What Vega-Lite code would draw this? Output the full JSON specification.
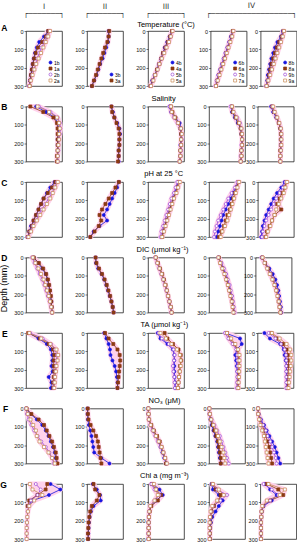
{
"$schema":"https://vega.github.io/schema/vega-lite/v6.json",
"padding":{"left":0,"top":2,"right":0,"bottom":0},
"background":"white",
"title":{"text":"Depth (mm)","orient":"left","anchor":"middle","fontSize":9,"offset":-9,"dx":-16},
"config":{
"font":"Liberation Sans",
"view":{"stroke":"#222","strokeWidth":0.8},
"axis":{"grid":false,"domain":false,"labelFontSize":5.5,"labelColor":"#111","labelFont":"Liberation Sans","tickSize":2,"tickColor":"#222","tickWidth":0.6,"labelPadding":1,"labelFlush":false,"labelOverlap":false},
"title":{"font":"Liberation Sans","fontSize":7.5,"fontWeight":"normal","color":"#000","offset":1,"anchor":"middle","subtitleFont":"Liberation Sans","subtitleFontSize":7.5,"subtitleColor":"#000","subtitlePadding":0,"lineHeight":7.5},
"legend":{"orient":"bottom-right","labelFontSize":5,"labelFont":"Liberation Sans","symbolSize":9,"rowPadding":-1,"padding":1,"offset":1,"labelOffset":1,"fillColor":"#ffffff","symbolStrokeWidth":0.7},
"area":{"strokeJoin":"round"}
},
"datasets":{
"A":[
{"c":1,"d":0,"p":28.5,"q":28.5,"u":29.5,"w":30},{"c":1,"d":30,"p":25,"q":26.5,"u":27.5,"w":28.5},{"c":1,"d":60,"p":21,"q":23.5,"u":25.5,"w":26.5},{"c":1,"d":90,"p":19,"q":20,"u":23,"w":24.5},{"c":1,"d":120,"p":17.5,"q":18,"u":21,"w":22.5},{"c":1,"d":150,"p":16.5,"q":16.8,"u":19.5,"w":20.5},{"c":1,"d":180,"p":15.5,"q":15.8,"u":18,"w":18.5},{"c":1,"d":210,"p":14.8,"q":15,"u":16.5,"w":17},{"c":1,"d":240,"p":14,"q":14.2,"u":15,"w":15.5},{"c":1,"d":270,"p":13.3,"q":13.5,"u":13.5,"w":14},{"c":1,"d":300,"p":12.8,"q":13,"u":12.5,"w":13},
{"c":2,"d":0,"p":28,"q":28.5},{"c":2,"d":30,"p":28,"q":28},{"c":2,"d":60,"p":27.5,"q":27},{"c":2,"d":90,"p":26,"q":25},{"c":2,"d":120,"p":24.5,"q":23.5},{"c":2,"d":150,"p":23,"q":22},{"c":2,"d":180,"p":21,"q":20.5},{"c":2,"d":210,"p":19.5,"q":19},{"c":2,"d":240,"p":18,"q":17.5},{"c":2,"d":270,"p":16,"q":15.8},{"c":2,"d":300,"p":14,"q":14.2},
{"c":3,"d":0,"p":30,"q":30,"u":30.5,"w":30.5},{"c":3,"d":30,"p":28,"q":28.5,"u":29,"w":29},{"c":3,"d":60,"p":26,"q":26.5,"u":27,"w":27.5},{"c":3,"d":90,"p":24,"q":24.5,"u":25,"w":25.5},{"c":3,"d":120,"p":22.5,"q":22.5,"u":23,"w":23.5},{"c":3,"d":150,"p":21,"q":21,"u":21,"w":21.5},{"c":3,"d":180,"p":19,"q":19.5,"u":19.5,"w":19.5},{"c":3,"d":210,"p":17.5,"q":17.5,"u":18,"w":18},{"c":3,"d":240,"p":15.5,"q":16,"u":16,"w":16},{"c":3,"d":270,"p":13.5,"q":14,"u":14,"w":14.5},{"c":3,"d":300,"p":12,"q":12,"u":12.5,"w":12.5},
{"c":4,"d":0,"p":28.5,"q":28.5,"u":29,"w":29},{"c":4,"d":30,"p":27,"q":27.5,"u":27.5,"w":28},{"c":4,"d":60,"p":25.5,"q":26,"u":25.5,"w":26.5},{"c":4,"d":90,"p":24,"q":24.5,"u":24,"w":25},{"c":4,"d":120,"p":22.5,"q":23,"u":22.5,"w":23.5},{"c":4,"d":150,"p":21,"q":21.5,"u":21,"w":22},{"c":4,"d":180,"p":19.5,"q":20,"u":19.5,"w":20.5},{"c":4,"d":210,"p":18,"q":18.5,"u":18,"w":19},{"c":4,"d":240,"p":16.5,"q":17,"u":16.5,"w":17.5},{"c":4,"d":270,"p":15.5,"q":15.5,"u":15,"w":16},{"c":4,"d":300,"p":14.5,"q":14.5,"u":14,"w":14.5},
{"c":5,"d":0,"p":28.5,"q":29,"u":29,"w":29.5},{"c":5,"d":30,"p":27,"q":27.5,"u":28,"w":28.5},{"c":5,"d":60,"p":24,"q":25.5,"u":26.5,"w":27},{"c":5,"d":90,"p":22,"q":23.5,"u":25,"w":25.5},{"c":5,"d":120,"p":20.5,"q":22,"u":23.5,"w":24},{"c":5,"d":150,"p":19,"q":20.5,"u":22,"w":22.5},{"c":5,"d":180,"p":18,"q":19,"u":20.5,"w":21},{"c":5,"d":210,"p":17,"q":18,"u":19,"w":19.5},{"c":5,"d":240,"p":16,"q":17,"u":17.5,"w":18},{"c":5,"d":270,"p":15.5,"q":16,"u":16,"w":16.5},{"c":5,"d":300,"p":15,"q":15,"u":14.5,"w":15}
],
"B":[
{"c":1,"d":0,"p":33.2,"q":32.8,"u":33.4,"w":33.3},{"c":1,"d":30,"p":33.9,"q":33.7,"u":34.2,"w":34.1},{"c":1,"d":60,"p":34.5,"q":34.4,"u":34.7,"w":34.65},{"c":1,"d":90,"p":34.7,"q":34.65,"u":34.85,"w":34.8},{"c":1,"d":120,"p":34.75,"q":34.7,"u":34.9,"w":34.85},{"c":1,"d":150,"p":34.75,"q":34.7,"u":34.85,"w":34.8},{"c":1,"d":180,"p":34.7,"q":34.7,"u":34.8,"w":34.8},{"c":1,"d":210,"p":34.7,"q":34.7,"u":34.75,"w":34.75},{"c":1,"d":240,"p":34.7,"q":34.7,"u":34.75,"w":34.7},{"c":1,"d":270,"p":34.7,"q":34.65,"u":34.7,"w":34.7},{"c":1,"d":300,"p":34.7,"q":34.65,"u":34.7,"w":34.7},
{"c":2,"d":0,"p":34.2,"q":34.2},{"c":2,"d":30,"p":34.3,"q":34.25},{"c":2,"d":60,"p":34.4,"q":34.4},{"c":2,"d":90,"p":34.6,"q":34.55},{"c":2,"d":120,"p":34.75,"q":34.7},{"c":2,"d":150,"p":34.8,"q":34.75},{"c":2,"d":180,"p":34.75,"q":34.75},{"c":2,"d":210,"p":34.75,"q":34.75},{"c":2,"d":240,"p":34.7,"q":34.7},{"c":2,"d":270,"p":34.7,"q":34.7},{"c":2,"d":300,"p":34.7,"q":34.65},
{"c":3,"d":0,"p":34.0,"q":34.1,"u":34.0,"w":34.1},{"c":3,"d":30,"p":34.1,"q":34.2,"u":34.1,"w":34.15},{"c":3,"d":60,"p":34.4,"q":34.4,"u":34.3,"w":34.35},{"c":3,"d":90,"p":34.7,"q":34.6,"u":34.55,"w":34.6},{"c":3,"d":120,"p":34.8,"q":34.75,"u":34.75,"w":34.8},{"c":3,"d":150,"p":34.8,"q":34.8,"u":34.85,"w":34.85},{"c":3,"d":180,"p":34.8,"q":34.8,"u":34.85,"w":34.8},{"c":3,"d":210,"p":34.75,"q":34.8,"u":34.8,"w":34.8},{"c":3,"d":240,"p":34.75,"q":34.75,"u":34.8,"w":34.75},{"c":3,"d":270,"p":34.75,"q":34.75,"u":34.75,"w":34.75},{"c":3,"d":300,"p":34.7,"q":34.7,"u":34.7,"w":34.7},
{"c":4,"d":0,"p":34.05,"q":34.1,"u":34.0,"w":34.1},{"c":4,"d":30,"p":34.1,"q":34.15,"u":34.2,"w":34.2},{"c":4,"d":60,"p":34.3,"q":34.35,"u":34.45,"w":34.4},{"c":4,"d":90,"p":34.5,"q":34.55,"u":34.65,"w":34.6},{"c":4,"d":120,"p":34.7,"q":34.7,"u":34.75,"w":34.75},{"c":4,"d":150,"p":34.75,"q":34.75,"u":34.8,"w":34.8},{"c":4,"d":180,"p":34.8,"q":34.8,"u":34.8,"w":34.8},{"c":4,"d":210,"p":34.8,"q":34.8,"u":34.75,"w":34.8},{"c":4,"d":240,"p":34.75,"q":34.75,"u":34.75,"w":34.75},{"c":4,"d":270,"p":34.75,"q":34.75,"u":34.7,"w":34.75},{"c":4,"d":300,"p":34.7,"q":34.7,"u":34.7,"w":34.7},
{"c":5,"d":0,"p":33.8,"q":33.9,"u":33.9,"w":34.0},{"c":5,"d":30,"p":34.0,"q":34.1,"u":34.1,"w":34.15},{"c":5,"d":60,"p":34.3,"q":34.35,"u":34.35,"w":34.4},{"c":5,"d":90,"p":34.55,"q":34.55,"u":34.6,"w":34.6},{"c":5,"d":120,"p":34.7,"q":34.7,"u":34.75,"w":34.75},{"c":5,"d":150,"p":34.75,"q":34.75,"u":34.8,"w":34.8},{"c":5,"d":180,"p":34.75,"q":34.75,"u":34.8,"w":34.8},{"c":5,"d":210,"p":34.75,"q":34.75,"u":34.75,"w":34.8},{"c":5,"d":240,"p":34.75,"q":34.7,"u":34.75,"w":34.75},{"c":5,"d":270,"p":34.7,"q":34.7,"u":34.7,"w":34.7},{"c":5,"d":300,"p":34.7,"q":34.7,"u":34.7,"w":34.7}
],
"C":[
{"c":1,"d":0,"p":8.12,"q":8.13,"u":8.15,"w":8.16},{"c":1,"d":30,"p":8.07,"q":8.09,"u":8.12,"w":8.13},{"c":1,"d":60,"p":8.03,"q":8.04,"u":8.09,"w":8.1},{"c":1,"d":90,"p":7.99,"q":7.99,"u":8.05,"w":8.07},{"c":1,"d":120,"p":7.96,"q":7.96,"u":8.01,"w":8.03},{"c":1,"d":150,"p":7.93,"q":7.93,"u":7.97,"w":7.99},{"c":1,"d":180,"p":7.9,"q":7.9,"u":7.93,"w":7.95},{"c":1,"d":210,"p":7.87,"q":7.87,"u":7.9,"w":7.91},{"c":1,"d":240,"p":7.84,"q":7.85,"u":7.86,"w":7.87},{"c":1,"d":270,"p":7.82,"q":7.82,"u":7.83,"w":7.84},{"c":1,"d":300,"p":7.8,"q":7.8,"u":7.8,"w":7.81},
{"c":2,"d":0,"p":8.16,"q":8.16},{"c":2,"d":30,"p":8.14,"q":8.12},{"c":2,"d":60,"p":8.11,"q":8.08},{"c":2,"d":90,"p":8.08,"q":8.04},{"c":2,"d":120,"p":8.05,"q":8.0},{"c":2,"d":150,"p":8.02,"q":7.96},{"c":2,"d":180,"p":7.98,"q":7.93},{"c":2,"d":210,"p":8.02,"q":7.95},{"c":2,"d":240,"p":7.93,"q":7.92},{"c":2,"d":270,"p":7.86,"q":7.87},{"c":2,"d":300,"p":7.82,"q":7.82},
{"c":3,"d":0,"p":8.14,"q":8.15,"u":8.13,"w":8.16},{"c":3,"d":30,"p":8.12,"q":8.13,"u":8.11,"w":8.14},{"c":3,"d":60,"p":8.1,"q":8.11,"u":8.09,"w":8.12},{"c":3,"d":90,"p":8.08,"q":8.08,"u":8.06,"w":8.09},{"c":3,"d":120,"p":8.06,"q":8.06,"u":8.04,"w":8.07},{"c":3,"d":150,"p":8.04,"q":8.04,"u":8.02,"w":8.05},{"c":3,"d":180,"p":8.02,"q":8.02,"u":8.0,"w":8.03},{"c":3,"d":210,"p":8.0,"q":8.0,"u":7.98,"w":8.01},{"c":3,"d":240,"p":7.98,"q":7.98,"u":7.96,"w":7.99},{"c":3,"d":270,"p":7.96,"q":7.96,"u":7.94,"w":7.97},{"c":3,"d":300,"p":7.94,"q":7.95,"u":7.93,"w":7.95},
{"c":4,"d":0,"p":8.13,"q":8.13,"u":8.12,"w":8.14},{"c":4,"d":30,"p":8.1,"q":8.11,"u":8.09,"w":8.12},{"c":4,"d":60,"p":8.07,"q":8.09,"u":8.05,"w":8.1},{"c":4,"d":90,"p":8.04,"q":8.07,"u":8.01,"w":8.08},{"c":4,"d":120,"p":8.01,"q":8.05,"u":7.98,"w":8.06},{"c":4,"d":150,"p":7.98,"q":8.03,"u":7.95,"w":8.04},{"c":4,"d":180,"p":7.95,"q":8.0,"u":7.92,"w":8.02},{"c":4,"d":210,"p":7.93,"q":7.98,"u":7.89,"w":8.0},{"c":4,"d":240,"p":7.91,"q":7.96,"u":7.87,"w":7.97},{"c":4,"d":270,"p":7.89,"q":7.93,"u":7.85,"w":7.94},{"c":4,"d":300,"p":7.87,"q":7.9,"u":7.84,"w":7.92},
{"c":5,"d":0,"p":8.1,"q":8.12,"u":8.11,"w":8.13},{"c":5,"d":30,"p":8.06,"q":8.1,"u":8.08,"w":8.11},{"c":5,"d":60,"p":8.01,"q":8.07,"u":8.04,"w":8.09},{"c":5,"d":90,"p":7.97,"q":8.04,"u":8.0,"w":8.06},{"c":5,"d":120,"p":7.94,"q":8.01,"u":7.97,"w":8.03},{"c":5,"d":150,"p":7.91,"q":8.06,"u":7.94,"w":8.0},{"c":5,"d":180,"p":7.88,"q":7.98,"u":7.91,"w":7.98},{"c":5,"d":210,"p":7.86,"q":7.95,"u":7.88,"w":7.95},{"c":5,"d":240,"p":7.84,"q":7.92,"u":7.86,"w":7.93},{"c":5,"d":270,"p":7.83,"q":7.89,"u":7.84,"w":7.9},{"c":5,"d":300,"p":7.82,"q":7.87,"u":7.83,"w":7.88}
],
"D":[
{"c":1,"d":0,"p":1880,"q":1880,"u":1860,"w":1870},{"c":1,"d":30,"p":1930,"q":1940,"u":1890,"w":1900},{"c":1,"d":60,"p":1980,"q":1990,"u":1920,"w":1935},{"c":1,"d":90,"p":2020,"q":2025,"u":1950,"w":1965},{"c":1,"d":120,"p":2040,"q":2045,"u":1980,"w":1995},{"c":1,"d":150,"p":2055,"q":2060,"u":2005,"w":2015},{"c":1,"d":180,"p":2065,"q":2070,"u":2025,"w":2035},{"c":1,"d":210,"p":2075,"q":2080,"u":2045,"w":2055},{"c":1,"d":240,"p":2085,"q":2085,"u":2065,"w":2070},{"c":1,"d":270,"p":2090,"q":2090,"u":2080,"w":2085},{"c":1,"d":300,"p":2095,"q":2095,"u":2090,"w":2095},
{"c":2,"d":0,"p":1890,"q":1890},{"c":2,"d":30,"p":1895,"q":1900},{"c":2,"d":60,"p":1920,"q":1930},{"c":2,"d":90,"p":1960,"q":1965},{"c":2,"d":120,"p":1990,"q":1995},{"c":2,"d":150,"p":2015,"q":2020},{"c":2,"d":180,"p":2035,"q":2040},{"c":2,"d":210,"p":2055,"q":2060},{"c":2,"d":240,"p":2075,"q":2075},{"c":2,"d":270,"p":2090,"q":2090},{"c":2,"d":300,"p":2100,"q":2100},
{"c":3,"d":0,"p":1880,"q":1880,"u":1875,"w":1880},{"c":3,"d":30,"p":1900,"q":1905,"u":1895,"w":1900},{"c":3,"d":60,"p":1925,"q":1930,"u":1920,"w":1925},{"c":3,"d":90,"p":1950,"q":1955,"u":1945,"w":1950},{"c":3,"d":120,"p":1970,"q":1975,"u":1965,"w":1970},{"c":3,"d":150,"p":1990,"q":1995,"u":1985,"w":1990},{"c":3,"d":180,"p":2010,"q":2010,"u":2005,"w":2010},{"c":3,"d":210,"p":2025,"q":2025,"u":2020,"w":2025},{"c":3,"d":240,"p":2040,"q":2040,"u":2035,"w":2040},{"c":3,"d":270,"p":2055,"q":2055,"u":2050,"w":2055},{"c":3,"d":300,"p":2065,"q":2065,"u":2060,"w":2065},
{"c":4,"d":0,"p":1900,"q":1905,"u":1900,"w":1900},{"c":4,"d":30,"p":1930,"q":1925,"u":1935,"w":1920},{"c":4,"d":60,"p":1955,"q":1950,"u":1965,"w":1945},{"c":4,"d":90,"p":1980,"q":1975,"u":1990,"w":1970},{"c":4,"d":120,"p":2000,"q":1995,"u":2010,"w":1990},{"c":4,"d":150,"p":2020,"q":2015,"u":2030,"w":2010},{"c":4,"d":180,"p":2035,"q":2030,"u":2045,"w":2025},{"c":4,"d":210,"p":2050,"q":2045,"u":2060,"w":2040},{"c":4,"d":240,"p":2060,"q":2060,"u":2070,"w":2055},{"c":4,"d":270,"p":2070,"q":2070,"u":2080,"w":2065},{"c":4,"d":300,"p":2080,"q":2080,"u":2090,"w":2075},
{"c":5,"d":0,"p":1860,"q":1870,"u":1865,"w":1870},{"c":5,"d":30,"p":1900,"q":1900,"u":1895,"w":1895},{"c":5,"d":60,"p":1950,"q":1935,"u":1930,"w":1925},{"c":5,"d":90,"p":1990,"q":1965,"u":1965,"w":1955},{"c":5,"d":120,"p":2020,"q":1995,"u":1995,"w":1985},{"c":5,"d":150,"p":2040,"q":2015,"u":2020,"w":2010},{"c":5,"d":180,"p":2055,"q":2035,"u":2040,"w":2030},{"c":5,"d":210,"p":2065,"q":2050,"u":2055,"w":2045},{"c":5,"d":240,"p":2075,"q":2060,"u":2065,"w":2060},{"c":5,"d":270,"p":2085,"q":2070,"u":2075,"w":2070},{"c":5,"d":300,"p":2090,"q":2080,"u":2085,"w":2080}
],
"E":[
{"c":1,"d":0,"p":2190,"q":2188,"u":2195,"w":2192},{"c":1,"d":30,"p":2225,"q":2230,"u":2240,"w":2235},{"c":1,"d":60,"p":2255,"q":2262,"u":2270,"w":2268},{"c":1,"d":90,"p":2270,"q":2278,"u":2285,"w":2290},{"c":1,"d":120,"p":2275,"q":2282,"u":2292,"w":2296},{"c":1,"d":150,"p":2275,"q":2280,"u":2290,"w":2294},{"c":1,"d":180,"p":2272,"q":2280,"u":2288,"w":2290},{"c":1,"d":210,"p":2276,"q":2282,"u":2286,"w":2288},{"c":1,"d":240,"p":2262,"q":2280,"u":2284,"w":2285},{"c":1,"d":270,"p":2272,"q":2278,"u":2282,"w":2284},{"c":1,"d":300,"p":2270,"q":2278,"u":2280,"w":2282},
{"c":2,"d":0,"p":2242,"q":2245},{"c":2,"d":30,"p":2250,"q":2258},{"c":2,"d":60,"p":2258,"q":2275},{"c":2,"d":90,"p":2263,"q":2290},{"c":2,"d":120,"p":2265,"q":2298},{"c":2,"d":150,"p":2272,"q":2300},{"c":2,"d":180,"p":2280,"q":2298},{"c":2,"d":210,"p":2285,"q":2296},{"c":2,"d":240,"p":2288,"q":2294},{"c":2,"d":270,"p":2290,"q":2292},{"c":2,"d":300,"p":2290,"q":2290},
{"c":3,"d":0,"p":2215,"q":2240,"u":2218,"w":2225},{"c":3,"d":30,"p":2225,"q":2250,"u":2230,"w":2245},{"c":3,"d":60,"p":2250,"q":2270,"u":2255,"w":2265},{"c":3,"d":90,"p":2270,"q":2290,"u":2272,"w":2285},{"c":3,"d":120,"p":2275,"q":2298,"u":2276,"w":2295},{"c":3,"d":150,"p":2275,"q":2300,"u":2274,"w":2298},{"c":3,"d":180,"p":2275,"q":2296,"u":2270,"w":2298},{"c":3,"d":210,"p":2275,"q":2294,"u":2272,"w":2295},{"c":3,"d":240,"p":2276,"q":2292,"u":2275,"w":2292},{"c":3,"d":270,"p":2278,"q":2290,"u":2276,"w":2290},{"c":3,"d":300,"p":2278,"q":2288,"u":2277,"w":2288},
{"c":4,"d":0,"p":2240,"q":2245,"u":2238,"w":2245},{"c":4,"d":30,"p":2292,"q":2255,"u":2250,"w":2260},{"c":4,"d":60,"p":2298,"q":2270,"u":2265,"w":2275},{"c":4,"d":90,"p":2280,"q":2282,"u":2278,"w":2285},{"c":4,"d":120,"p":2275,"q":2286,"u":2282,"w":2290},{"c":4,"d":150,"p":2278,"q":2288,"u":2283,"w":2290},{"c":4,"d":180,"p":2280,"q":2288,"u":2283,"w":2290},{"c":4,"d":210,"p":2282,"q":2287,"u":2282,"w":2289},{"c":4,"d":240,"p":2284,"q":2286,"u":2282,"w":2288},{"c":4,"d":270,"p":2285,"q":2285,"u":2281,"w":2287},{"c":4,"d":300,"p":2285,"q":2285,"u":2280,"w":2286},
{"c":5,"d":0,"p":2205,"q":2230,"u":2220,"w":2232},{"c":5,"d":30,"p":2225,"q":2250,"u":2245,"w":2260},{"c":5,"d":60,"p":2262,"q":2272,"u":2265,"w":2285},{"c":5,"d":90,"p":2275,"q":2285,"u":2278,"w":2298},{"c":5,"d":120,"p":2278,"q":2290,"u":2283,"w":2302},{"c":5,"d":150,"p":2282,"q":2292,"u":2284,"w":2302},{"c":5,"d":180,"p":2285,"q":2292,"u":2284,"w":2300},{"c":5,"d":210,"p":2285,"q":2291,"u":2284,"w":2298},{"c":5,"d":240,"p":2286,"q":2290,"u":2284,"w":2296},{"c":5,"d":270,"p":2286,"q":2289,"u":2284,"w":2294},{"c":5,"d":300,"p":2286,"q":2288,"u":2284,"w":2292}
],
"F":[
{"c":1,"d":0,"p":0.2,"q":0.3,"u":0.1,"w":0.2},{"c":1,"d":30,"p":2.5,"q":3,"u":0.5,"w":1},{"c":1,"d":60,"p":6,"q":7,"u":1.5,"w":2.5},{"c":1,"d":90,"p":9,"q":10,"u":3,"w":4},{"c":1,"d":120,"p":11,"q":11.5,"u":4.5,"w":5.5},{"c":1,"d":150,"p":12.5,"q":13,"u":6.5,"w":6},{"c":1,"d":180,"p":13.8,"q":14.5,"u":8.5,"w":7.5},{"c":1,"d":210,"p":15,"q":15.5,"u":11,"w":10},{"c":1,"d":240,"p":16,"q":16.5,"u":13,"w":12.5},{"c":1,"d":270,"p":16.5,"q":17,"u":14.5,"w":14.5},{"c":1,"d":300,"p":17,"q":17.5,"u":15.5,"w":16},
{"c":2,"d":0,"p":0.3,"q":0.4},{"c":2,"d":30,"p":0.3,"q":0.5},{"c":2,"d":60,"p":0.5,"q":0.8},{"c":2,"d":90,"p":1,"q":2},{"c":2,"d":120,"p":1.8,"q":3.5},{"c":2,"d":150,"p":2.5,"q":5},{"c":2,"d":180,"p":3,"q":6},{"c":2,"d":210,"p":3.5,"q":6.5},{"c":2,"d":240,"p":4,"q":7},{"c":2,"d":270,"p":8,"q":7.5},{"c":2,"d":300,"p":12.5,"q":8},
{"c":3,"d":0,"p":0.2,"q":0.2,"u":0.1,"w":0.2},{"c":3,"d":30,"p":0.2,"q":0.3,"u":0.2,"w":0.3},{"c":3,"d":60,"p":0.5,"q":0.6,"u":0.4,"w":0.5},{"c":3,"d":90,"p":1.5,"q":1.8,"u":1.2,"w":1.5},{"c":3,"d":120,"p":3,"q":3.2,"u":2.5,"w":3},{"c":3,"d":150,"p":4.5,"q":5,"u":4,"w":4.5},{"c":3,"d":180,"p":6,"q":6.5,"u":5.5,"w":6},{"c":3,"d":210,"p":7,"q":7.5,"u":7,"w":7.5},{"c":3,"d":240,"p":8,"q":8.5,"u":8.5,"w":8.5},{"c":3,"d":270,"p":9,"q":9.5,"u":9.5,"w":9.5},{"c":3,"d":300,"p":10,"q":10,"u":10.5,"w":10.5},
{"c":4,"d":0,"p":0.2,"q":0.2,"u":0.2,"w":0.2},{"c":4,"d":30,"p":0.3,"q":0.4,"u":0.5,"w":0.5},{"c":4,"d":60,"p":0.8,"q":1,"u":1.5,"w":1.2},{"c":4,"d":90,"p":1.5,"q":2,"u":3,"w":2.5},{"c":4,"d":120,"p":2.5,"q":3,"u":4.5,"w":4},{"c":4,"d":150,"p":3.5,"q":4,"u":6,"w":5},{"c":4,"d":180,"p":4.5,"q":5,"u":7,"w":6},{"c":4,"d":210,"p":5,"q":5.5,"u":8,"w":7},{"c":4,"d":240,"p":5.5,"q":6,"u":9,"w":8},{"c":4,"d":270,"p":6,"q":6.5,"u":10,"w":8.5},{"c":4,"d":300,"p":6.5,"q":6.5,"u":11,"w":9},
{"c":5,"d":0,"p":0.2,"q":0.2,"u":0.2,"w":0.2},{"c":5,"d":30,"p":0.5,"q":0.4,"u":0.4,"w":0.3},{"c":5,"d":60,"p":1.8,"q":1.2,"u":1.5,"w":0.8},{"c":5,"d":90,"p":3.5,"q":2.5,"u":3,"w":1.5},{"c":5,"d":120,"p":5,"q":3.5,"u":4.5,"w":2.5},{"c":5,"d":150,"p":6.5,"q":4.5,"u":5.5,"w":3.5},{"c":5,"d":180,"p":8,"q":5.5,"u":7,"w":4},{"c":5,"d":210,"p":9.5,"q":6.5,"u":8,"w":4.5},{"c":5,"d":240,"p":10.5,"q":7,"u":9,"w":5},{"c":5,"d":270,"p":11.5,"q":7.5,"u":10,"w":5.5},{"c":5,"d":300,"p":12.5,"q":8,"u":10.5,"w":6}
],
"G":[
{"c":1,"d":0,"p":0.75,"q":0.65,"u":0.3,"w":0.12},{"c":1,"d":30,"p":1.05,"q":0.6,"u":0.45,"w":0.2},{"c":1,"d":60,"p":0.7,"q":0.35,"u":0.35,"w":0.5},{"c":1,"d":90,"p":0.2,"q":0.1,"u":0.15,"w":0.25},{"c":1,"d":120,"p":0.07,"q":0.05,"u":0.08,"w":0.1},{"c":1,"d":150,"u":0.05,"w":0.06},{"c":1,"d":180,"u":0.04,"w":0.04},{"c":1,"d":210,"u":0.03,"w":0.03},{"c":1,"d":240,"u":0.03,"w":0.02},{"c":1,"d":270,"u":0.02,"w":0.02},{"c":1,"d":300,"u":0.02,"w":0.02},
{"c":2,"d":0,"p":0.18,"q":0.2},{"c":2,"d":30,"p":0.3,"q":0.25},{"c":2,"d":60,"p":0.4,"q":0.38},{"c":2,"d":90,"p":0.42,"q":0.3},{"c":2,"d":120,"p":0.2,"q":0.15},{"c":2,"d":150,"p":0.12,"q":0.1},{"c":2,"d":180,"p":0.08,"q":0.07},{"c":2,"d":210,"p":0.06,"q":0.05},{"c":2,"d":240,"p":0.05,"q":0.04},{"c":2,"d":270,"p":0.04,"q":0.03},{"c":2,"d":300,"p":0.04,"q":0.03},
{"c":3,"d":0,"p":0.15,"q":0.12,"u":0.1,"w":0.18},{"c":3,"d":30,"p":0.35,"q":0.25,"u":0.2,"w":0.25},{"c":3,"d":60,"p":0.45,"q":0.4,"u":0.35,"w":0.3},{"c":3,"d":90,"p":0.25,"q":0.3,"u":0.2,"w":0.2},{"c":3,"d":120,"p":0.08,"q":0.1,"u":0.06,"w":0.07},{"c":3,"d":150,"p":0.04,"q":0.05,"u":0.03,"w":0.04},{"c":3,"d":180,"p":0.03,"q":0.03,"u":0.02,"w":0.03},{"c":3,"d":210,"p":0.02,"q":0.02,"u":0.02,"w":0.02},{"c":3,"d":240,"p":0.02,"q":0.02,"u":0.02,"w":0.02},{"c":3,"d":270,"p":0.02,"q":0.02,"u":0.01,"w":0.02},{"c":3,"d":300,"p":0.02,"q":0.02,"u":0.01,"w":0.02},
{"c":4,"d":0,"p":0.08,"q":0.1,"u":0.1,"w":0.12},{"c":4,"d":30,"p":0.12,"q":0.2,"u":0.25,"w":0.3},{"c":4,"d":60,"p":0.3,"q":0.35,"u":0.55,"w":0.45},{"c":4,"d":90,"p":0.42,"q":0.3,"u":0.35,"w":0.25},{"c":4,"d":120,"p":0.3,"q":0.15,"u":0.12,"w":0.1},{"c":4,"d":150,"p":0.2,"q":0.08,"u":0.06,"w":0.05},{"c":4,"d":180,"p":0.1,"q":0.05,"u":0.04,"w":0.03},{"c":4,"d":210,"p":0.06,"q":0.04,"u":0.03,"w":0.02},{"c":4,"d":240,"p":0.04,"q":0.03,"u":0.02,"w":0.02},{"c":4,"d":270,"p":0.03,"q":0.03,"u":0.02,"w":0.02},{"c":4,"d":300,"p":0.03,"q":0.03,"u":0.02,"w":0.02},
{"c":5,"d":0,"p":0.15,"q":0.2,"u":0.1,"w":0.25},{"c":5,"d":30,"p":0.3,"q":0.55,"u":0.35,"w":0.75},{"c":5,"d":60,"p":0.5,"q":0.7,"u":0.55,"w":0.6},{"c":5,"d":90,"p":0.35,"q":0.3,"u":0.3,"w":0.2},{"c":5,"d":120,"p":0.1,"q":0.08,"u":0.08,"w":0.06},{"c":5,"d":150,"p":0.05,"q":0.04,"u":0.04,"w":0.04},{"c":5,"d":180,"p":0.03,"q":0.03,"u":0.03,"w":0.03},{"c":5,"d":210,"p":0.02,"q":0.02,"u":0.02,"w":0.02},{"c":5,"d":240,"p":0.02,"q":0.02,"u":0.02,"w":0.02},{"c":5,"d":270,"p":0.02,"q":0.02,"u":0.02,"w":0.02},{"c":5,"d":300,"p":0.02,"q":0.02,"u":0.02,"w":0.02}
]
},
"spacing":4.5,
"resolve":{"scale":{"stroke":"independent","fill":"independent","shape":"independent"},"legend":{"stroke":"independent","fill":"independent","shape":"independent"}},
"vconcat":[
{"spacing":1.6,
"resolve":{"scale":{"stroke":"independent","fill":"independent","shape":"independent"},"legend":{"stroke":"independent","fill":"independent","shape":"independent"}},
"hconcat":[
{"title":{"text":"A","orient":"left","angle":0,"anchor":"end","align":"right","baseline":"top","fontSize":8.5,"fontWeight":"bold","offset":0,"dy":22},
"bounds":"flush","spacing":25,
"resolve":{"scale":{"stroke":"independent","fill":"independent","shape":"independent"},"legend":{"stroke":"independent","fill":"independent","shape":"independent"}},
"hconcat":[
{"width":36,"height":55,"data":{"name":"A"},"transform":[{"filter":"datum.c==1"},{"fold":["p","q","u","w"],"as":["k","v"]},{"filter":"isValid(datum.v)"}],
"title":{"text":["I","┌───────┐"],"subtitle":"\u00a0","font":"DejaVu Sans","fontSize":7.5,"color":"#333","frame":"group","offset":0},
"encoding":{"y":{"field":"d","type":"quantitative","title":null,"scale":{"domain":[0,300],"reverse":true,"nice":false,"zero":false},"axis":{"values":[0,100,200,300]}}},
"layer":[
{"transform":[{"aggregate":[{"op":"min","field":"v","as":"lo"},{"op":"max","field":"v","as":"hi"}],"groupby":["c","d"]}],"mark":{"type":"area","orient":"horizontal","fill":"#ffd2ec","stroke":"#ffd2ec","strokeWidth":5},"encoding":{"x":{"field":"lo","type":"quantitative","title":null,"scale":{"domain":[10,40],"nice":false,"zero":false},"axis":{"orient":"top","values":[10,20,30,40],"format":"d"}},"x2":{"field":"hi"}}},
{"mark":{"type":"line","strokeWidth":0.8},"encoding":{"x":{"field":"v","type":"quantitative","axis":null},"stroke":{"field":"k","type":"nominal","scale":{"domain":["p","q","u","w"],"range":["#1515e0","#8b3a12","#9b45d6","#c98a55"]},"legend":{"title":null,"labelExpr":"datum.label=='p'?'1b':datum.label=='q'?'1a':datum.label=='u'?'2b':'2a'"}},"order":{"field":"d","type":"quantitative"}}},
{"mark":{"type":"point","filled":true,"size":9,"strokeWidth":0.7,"opacity":1},"encoding":{"x":{"field":"v","type":"quantitative","axis":null},
"stroke":{"field":"k","type":"nominal","scale":{"domain":["p","q","u","w"],"range":["#1515e0","#8b3a12","#9b45d6","#c98a55"]},"legend":{"title":null,"labelExpr":"datum.label=='p'?'1b':datum.label=='q'?'1a':datum.label=='u'?'2b':'2a'"}},
"fill":{"field":"k","type":"nominal","scale":{"domain":["p","q","u","w"],"range":["#1515e0","#8b3a12","#ffffff","#ffffff"]},"legend":{"title":null,"labelExpr":"datum.label=='p'?'1b':datum.label=='q'?'1a':datum.label=='u'?'2b':'2a'"}},
"shape":{"field":"k","type":"nominal","scale":{"domain":["p","q","u","w"],"range":["circle","square","circle","square"]},"legend":{"title":null,"labelExpr":"datum.label=='p'?'1b':datum.label=='q'?'1a':datum.label=='u'?'2b':'2a'"}}}}
]},
{"width":36,"height":55,"data":{"name":"A"},"transform":[{"filter":"datum.c==2"},{"fold":["p","q","u","w"],"as":["k","v"]},{"filter":"isValid(datum.v)"}],
"title":{"text":["II","┌───────┐"],"subtitle":"\u00a0","font":"DejaVu Sans","fontSize":7.5,"color":"#333","frame":"group","offset":0},
"encoding":{"y":{"field":"d","type":"quantitative","title":null,"scale":{"domain":[0,300],"reverse":true,"nice":false,"zero":false},"axis":{"values":[0,100,200,300]}}},
"layer":[
{"transform":[{"aggregate":[{"op":"min","field":"v","as":"lo"},{"op":"max","field":"v","as":"hi"}],"groupby":["c","d"]}],"mark":{"type":"area","orient":"horizontal","fill":"#ffd2ec","stroke":"#ffd2ec","strokeWidth":5},"encoding":{"x":{"field":"lo","type":"quantitative","title":null,"scale":{"domain":[10,40],"nice":false,"zero":false},"axis":{"orient":"top","values":[10,20,30,40],"format":"d"}},"x2":{"field":"hi"}}},
{"mark":{"type":"line","strokeWidth":0.8},"encoding":{"x":{"field":"v","type":"quantitative","axis":null},"stroke":{"field":"k","type":"nominal","scale":{"domain":["p","q"],"range":["#1515e0","#8b3a12"]},"legend":{"title":null,"labelExpr":"datum.label=='p'?'3b':'3a'"}},"order":{"field":"d","type":"quantitative"}}},
{"mark":{"type":"point","filled":true,"size":9,"strokeWidth":0.7,"opacity":1},"encoding":{"x":{"field":"v","type":"quantitative","axis":null},
"stroke":{"field":"k","type":"nominal","scale":{"domain":["p","q"],"range":["#1515e0","#8b3a12"]},"legend":{"title":null,"labelExpr":"datum.label=='p'?'3b':'3a'"}},
"fill":{"field":"k","type":"nominal","scale":{"domain":["p","q"],"range":["#1515e0","#8b3a12"]},"legend":{"title":null,"labelExpr":"datum.label=='p'?'3b':'3a'"}},
"shape":{"field":"k","type":"nominal","scale":{"domain":["p","q"],"range":["circle","square"]},"legend":{"title":null,"labelExpr":"datum.label=='p'?'3b':'3a'"}}}}
]},
{"width":36,"height":55,"data":{"name":"A"},"transform":[{"filter":"datum.c==3"},{"fold":["p","q","u","w"],"as":["k","v"]},{"filter":"isValid(datum.v)"}],
"title":{"text":["III","┌───────┐"],"subtitle":"Temperature (°C)","font":"DejaVu Sans","fontSize":7.5,"color":"#333","frame":"group","offset":0},
"encoding":{"y":{"field":"d","type":"quantitative","title":null,"scale":{"domain":[0,300],"reverse":true,"nice":false,"zero":false},"axis":{"values":[0,100,200,300]}}},
"layer":[
{"transform":[{"aggregate":[{"op":"min","field":"v","as":"lo"},{"op":"max","field":"v","as":"hi"}],"groupby":["c","d"]}],"mark":{"type":"area","orient":"horizontal","fill":"#ffd2ec","stroke":"#ffd2ec","strokeWidth":5},"encoding":{"x":{"field":"lo","type":"quantitative","title":null,"scale":{"domain":[10,40],"nice":false,"zero":false},"axis":{"orient":"top","values":[10,20,30,40],"format":"d"}},"x2":{"field":"hi"}}},
{"mark":{"type":"line","strokeWidth":0.8},"encoding":{"x":{"field":"v","type":"quantitative","axis":null},"stroke":{"field":"k","type":"nominal","scale":{"domain":["p","q","u","w"],"range":["#1515e0","#8b3a12","#9b45d6","#c98a55"]},"legend":{"title":null,"labelExpr":"datum.label=='p'?'4b':datum.label=='q'?'4a':datum.label=='u'?'5b':'5a'"}},"order":{"field":"d","type":"quantitative"}}},
{"mark":{"type":"point","filled":true,"size":9,"strokeWidth":0.7,"opacity":1},"encoding":{"x":{"field":"v","type":"quantitative","axis":null},
"stroke":{"field":"k","type":"nominal","scale":{"domain":["p","q","u","w"],"range":["#1515e0","#8b3a12","#9b45d6","#c98a55"]},"legend":{"title":null,"labelExpr":"datum.label=='p'?'4b':datum.label=='q'?'4a':datum.label=='u'?'5b':'5a'"}},
"fill":{"field":"k","type":"nominal","scale":{"domain":["p","q","u","w"],"range":["#1515e0","#8b3a12","#ffffff","#ffffff"]},"legend":{"title":null,"labelExpr":"datum.label=='p'?'4b':datum.label=='q'?'4a':datum.label=='u'?'5b':'5a'"}},
"shape":{"field":"k","type":"nominal","scale":{"domain":["p","q","u","w"],"range":["circle","square","circle","square"]},"legend":{"title":null,"labelExpr":"datum.label=='p'?'4b':datum.label=='q'?'4a':datum.label=='u'?'5b':'5a'"}}}}
]}
]},
{"title":{"text":["IV","┌──────────────────┐"],"subtitle":"\u00a0","font":"DejaVu Sans","fontSize":7.5,"color":"#333","anchor":"middle","offset":0,"dx":4},
"bounds":"flush","spacing":14,
"resolve":{"scale":{"stroke":"independent","fill":"independent","shape":"independent"},"legend":{"stroke":"independent","fill":"independent","shape":"independent"}},
"hconcat":[
{"width":36,"height":55,"data":{"name":"A"},"transform":[{"filter":"datum.c==4"},{"fold":["p","q","u","w"],"as":["k","v"]},{"filter":"isValid(datum.v)"}],
"encoding":{"y":{"field":"d","type":"quantitative","title":null,"scale":{"domain":[0,300],"reverse":true,"nice":false,"zero":false},"axis":{"values":[0,100,200,300]}}},
"layer":[
{"transform":[{"aggregate":[{"op":"min","field":"v","as":"lo"},{"op":"max","field":"v","as":"hi"}],"groupby":["c","d"]}],"mark":{"type":"area","orient":"horizontal","fill":"#ffd2ec","stroke":"#ffd2ec","strokeWidth":5},"encoding":{"x":{"field":"lo","type":"quantitative","title":null,"scale":{"domain":[10,40],"nice":false,"zero":false},"axis":{"orient":"top","values":[10,20,30,40],"format":"d"}},"x2":{"field":"hi"}}},
{"mark":{"type":"line","strokeWidth":0.8},"encoding":{"x":{"field":"v","type":"quantitative","axis":null},"stroke":{"field":"k","type":"nominal","scale":{"domain":["p","q","u","w"],"range":["#1515e0","#8b3a12","#9b45d6","#c98a55"]},"legend":{"title":null,"labelExpr":"datum.label=='p'?'6b':datum.label=='q'?'6a':datum.label=='u'?'7b':'7a'"}},"order":{"field":"d","type":"quantitative"}}},
{"mark":{"type":"point","filled":true,"size":9,"strokeWidth":0.7,"opacity":1},"encoding":{"x":{"field":"v","type":"quantitative","axis":null},
"stroke":{"field":"k","type":"nominal","scale":{"domain":["p","q","u","w"],"range":["#1515e0","#8b3a12","#9b45d6","#c98a55"]},"legend":{"title":null,"labelExpr":"datum.label=='p'?'6b':datum.label=='q'?'6a':datum.label=='u'?'7b':'7a'"}},
"fill":{"field":"k","type":"nominal","scale":{"domain":["p","q","u","w"],"range":["#1515e0","#8b3a12","#ffffff","#ffffff"]},"legend":{"title":null,"labelExpr":"datum.label=='p'?'6b':datum.label=='q'?'6a':datum.label=='u'?'7b':'7a'"}},
"shape":{"field":"k","type":"nominal","scale":{"domain":["p","q","u","w"],"range":["circle","square","circle","square"]},"legend":{"title":null,"labelExpr":"datum.label=='p'?'6b':datum.label=='q'?'6a':datum.label=='u'?'7b':'7a'"}}}}
]},
{"width":36,"height":55,"data":{"name":"A"},"transform":[{"filter":"datum.c==5"},{"fold":["p","q","u","w"],"as":["k","v"]},{"filter":"isValid(datum.v)"}],
"encoding":{"y":{"field":"d","type":"quantitative","title":null,"scale":{"domain":[0,300],"reverse":true,"nice":false,"zero":false},"axis":{"values":[0,100,200,300]}}},
"layer":[
{"transform":[{"aggregate":[{"op":"min","field":"v","as":"lo"},{"op":"max","field":"v","as":"hi"}],"groupby":["c","d"]}],"mark":{"type":"area","orient":"horizontal","fill":"#ffd2ec","stroke":"#ffd2ec","strokeWidth":5},"encoding":{"x":{"field":"lo","type":"quantitative","title":null,"scale":{"domain":[10,40],"nice":false,"zero":false},"axis":{"orient":"top","values":[10,20,30,40],"format":"d"}},"x2":{"field":"hi"}}},
{"mark":{"type":"line","strokeWidth":0.8},"encoding":{"x":{"field":"v","type":"quantitative","axis":null},"stroke":{"field":"k","type":"nominal","scale":{"domain":["p","q","u","w"],"range":["#1515e0","#8b3a12","#9b45d6","#c98a55"]},"legend":{"title":null,"labelExpr":"datum.label=='p'?'8b':datum.label=='q'?'8a':datum.label=='u'?'9b':'9a'"}},"order":{"field":"d","type":"quantitative"}}},
{"mark":{"type":"point","filled":true,"size":9,"strokeWidth":0.7,"opacity":1},"encoding":{"x":{"field":"v","type":"quantitative","axis":null},
"stroke":{"field":"k","type":"nominal","scale":{"domain":["p","q","u","w"],"range":["#1515e0","#8b3a12","#9b45d6","#c98a55"]},"legend":{"title":null,"labelExpr":"datum.label=='p'?'8b':datum.label=='q'?'8a':datum.label=='u'?'9b':'9a'"}},
"fill":{"field":"k","type":"nominal","scale":{"domain":["p","q","u","w"],"range":["#1515e0","#8b3a12","#ffffff","#ffffff"]},"legend":{"title":null,"labelExpr":"datum.label=='p'?'8b':datum.label=='q'?'8a':datum.label=='u'?'9b':'9a'"}},
"shape":{"field":"k","type":"nominal","scale":{"domain":["p","q","u","w"],"range":["circle","square","circle","square"]},"legend":{"title":null,"labelExpr":"datum.label=='p'?'8b':datum.label=='q'?'8a':datum.label=='u'?'9b':'9a'"}}}}
]}
]}
]},
{"title":{"text":"Salinity","anchor":"middle","dx":16},"spacing":-1.3,"hconcat":[
{"title":{"text":"B","orient":"left","angle":0,"anchor":"end","align":"right","baseline":"top","fontSize":8.5,"fontWeight":"bold","offset":0},
"data":{"name":"B"},"transform":[{"filter":"datum.c<5"},{"fold":["p","q","u","w"],"as":["k","v"]},{"filter":"isValid(datum.v)"}],
"facet":{"column":{"field":"c","type":"ordinal","header":{"labels":false,"title":null}}},"spacing":25,"bounds":"flush",
"resolve":{"axis":{"x":"independent","y":"independent"}},
"spec":{"width":36,"height":55,
"encoding":{"y":{"field":"d","type":"quantitative","title":null,"scale":{"domain":[0,300],"reverse":true,"nice":false,"zero":false},"axis":{"values":[0,100,200,300]}}},
"layer":[
{"transform":[{"aggregate":[{"op":"min","field":"v","as":"lo"},{"op":"max","field":"v","as":"hi"}],"groupby":["c","d"]}],"mark":{"type":"area","orient":"horizontal","fill":"#ffd2ec","stroke":"#ffd2ec","strokeWidth":5},"encoding":{"x":{"field":"lo","type":"quantitative","title":null,"scale":{"domain":[32.5,35],"nice":false,"zero":false},"axis":{"orient":"top","values":[33,34,35],"format":"d"}},"x2":{"field":"hi"}}},
{"mark":{"type":"line","strokeWidth":0.8},"encoding":{"x":{"field":"v","type":"quantitative","axis":null},"stroke":{"field":"k","type":"nominal","scale":{"domain":["p","q","u","w"],"range":["#1515e0","#8b3a12","#9b45d6","#c98a55"]},"legend":null},"order":{"field":"d","type":"quantitative"}}},
{"mark":{"type":"point","filled":true,"size":9,"strokeWidth":0.7,"opacity":1},"encoding":{"x":{"field":"v","type":"quantitative","axis":null},"stroke":{"field":"k","type":"nominal","scale":{"domain":["p","q","u","w"],"range":["#1515e0","#8b3a12","#9b45d6","#c98a55"]},"legend":null},"fill":{"field":"k","type":"nominal","scale":{"domain":["p","q","u","w"],"range":["#1515e0","#8b3a12","#ffffff","#ffffff"]},"legend":null},"shape":{"field":"k","type":"nominal","scale":{"domain":["p","q","u","w"],"range":["circle","square","circle","square"]},"legend":null}}}
]}},
{"width":36,"height":55,"data":{"name":"B"},"transform":[{"filter":"datum.c==5"},{"fold":["p","q","u","w"],"as":["k","v"]},{"filter":"isValid(datum.v)"}],
"encoding":{"y":{"field":"d","type":"quantitative","title":null,"scale":{"domain":[0,300],"reverse":true,"nice":false,"zero":false},"axis":{"values":[0,100,200,300]}}},
"layer":[
{"transform":[{"aggregate":[{"op":"min","field":"v","as":"lo"},{"op":"max","field":"v","as":"hi"}],"groupby":["c","d"]}],"mark":{"type":"area","orient":"horizontal","fill":"#ffd2ec","stroke":"#ffd2ec","strokeWidth":5},"encoding":{"x":{"field":"lo","type":"quantitative","title":null,"scale":{"domain":[32.5,36],"nice":false,"zero":false},"axis":{"orient":"top","values":[33,34,35,36],"format":"d"}},"x2":{"field":"hi"}}},
{"mark":{"type":"line","strokeWidth":0.8},"encoding":{"x":{"field":"v","type":"quantitative","axis":null},"stroke":{"field":"k","type":"nominal","scale":{"domain":["p","q","u","w"],"range":["#1515e0","#8b3a12","#9b45d6","#c98a55"]},"legend":null},"order":{"field":"d","type":"quantitative"}}},
{"mark":{"type":"point","filled":true,"size":9,"strokeWidth":0.7,"opacity":1},"encoding":{"x":{"field":"v","type":"quantitative","axis":null},"stroke":{"field":"k","type":"nominal","scale":{"domain":["p","q","u","w"],"range":["#1515e0","#8b3a12","#9b45d6","#c98a55"]},"legend":null},"fill":{"field":"k","type":"nominal","scale":{"domain":["p","q","u","w"],"range":["#1515e0","#8b3a12","#ffffff","#ffffff"]},"legend":null},"shape":{"field":"k","type":"nominal","scale":{"domain":["p","q","u","w"],"range":["circle","square","circle","square"]},"legend":null}}}
]}
]},
{"title":{"text":"pH at 25 °C","anchor":"middle","dx":16},"spacing":-1.2,"hconcat":[
{"title":{"text":"C","orient":"left","angle":0,"anchor":"end","align":"right","baseline":"top","fontSize":8.5,"fontWeight":"bold","offset":0},
"data":{"name":"C"},"transform":[{"filter":"datum.c<5"},{"fold":["p","q","u","w"],"as":["k","v"]},{"filter":"isValid(datum.v)"}],
"facet":{"column":{"field":"c","type":"ordinal","header":{"labels":false,"title":null}}},"spacing":25,"bounds":"flush",
"resolve":{"axis":{"x":"independent","y":"independent"}},
"spec":{"width":36,"height":55,
"encoding":{"y":{"field":"d","type":"quantitative","title":null,"scale":{"domain":[0,300],"reverse":true,"nice":false,"zero":false},"axis":{"values":[0,100,200,300]}}},
"layer":[
{"transform":[{"aggregate":[{"op":"min","field":"v","as":"lo"},{"op":"max","field":"v","as":"hi"}],"groupby":["c","d"]}],"mark":{"type":"area","orient":"horizontal","fill":"#ffd2ec","stroke":"#ffd2ec","strokeWidth":5},"encoding":{"x":{"field":"lo","type":"quantitative","title":null,"scale":{"domain":[7.78,8.21],"nice":false,"zero":false},"axis":{"orient":"top","values":[7.8,8.0,8.2],"format":".1f"}},"x2":{"field":"hi"}}},
{"mark":{"type":"line","strokeWidth":0.8},"encoding":{"x":{"field":"v","type":"quantitative","axis":null},"stroke":{"field":"k","type":"nominal","scale":{"domain":["p","q","u","w"],"range":["#1515e0","#8b3a12","#9b45d6","#c98a55"]},"legend":null},"order":{"field":"d","type":"quantitative"}}},
{"mark":{"type":"point","filled":true,"size":9,"strokeWidth":0.7,"opacity":1},"encoding":{"x":{"field":"v","type":"quantitative","axis":null},"stroke":{"field":"k","type":"nominal","scale":{"domain":["p","q","u","w"],"range":["#1515e0","#8b3a12","#9b45d6","#c98a55"]},"legend":null},"fill":{"field":"k","type":"nominal","scale":{"domain":["p","q","u","w"],"range":["#1515e0","#8b3a12","#ffffff","#ffffff"]},"legend":null},"shape":{"field":"k","type":"nominal","scale":{"domain":["p","q","u","w"],"range":["circle","square","circle","square"]},"legend":null}}}
]}},
{"width":36,"height":55,"data":{"name":"C"},"transform":[{"filter":"datum.c==5"},{"fold":["p","q","u","w"],"as":["k","v"]},{"filter":"isValid(datum.v)"}],
"encoding":{"y":{"field":"d","type":"quantitative","title":null,"scale":{"domain":[0,300],"reverse":true,"nice":false,"zero":false},"axis":{"values":[0,100,200,300]}}},
"layer":[
{"transform":[{"aggregate":[{"op":"min","field":"v","as":"lo"},{"op":"max","field":"v","as":"hi"}],"groupby":["c","d"]}],"mark":{"type":"area","orient":"horizontal","fill":"#ffd2ec","stroke":"#ffd2ec","strokeWidth":5},"encoding":{"x":{"field":"lo","type":"quantitative","title":null,"scale":{"domain":[7.78,8.21],"nice":false,"zero":false},"axis":{"orient":"top","values":[7.8,8.0,8.2],"format":".1f"}},"x2":{"field":"hi"}}},
{"mark":{"type":"line","strokeWidth":0.8},"encoding":{"x":{"field":"v","type":"quantitative","axis":null},"stroke":{"field":"k","type":"nominal","scale":{"domain":["p","q","u","w"],"range":["#1515e0","#8b3a12","#9b45d6","#c98a55"]},"legend":null},"order":{"field":"d","type":"quantitative"}}},
{"mark":{"type":"point","filled":true,"size":9,"strokeWidth":0.7,"opacity":1},"encoding":{"x":{"field":"v","type":"quantitative","axis":null},"stroke":{"field":"k","type":"nominal","scale":{"domain":["p","q","u","w"],"range":["#1515e0","#8b3a12","#9b45d6","#c98a55"]},"legend":null},"fill":{"field":"k","type":"nominal","scale":{"domain":["p","q","u","w"],"range":["#1515e0","#8b3a12","#ffffff","#ffffff"]},"legend":null},"shape":{"field":"k","type":"nominal","scale":{"domain":["p","q","u","w"],"range":["circle","square","circle","square"]},"legend":null}}}
]}
]},
{"title":{"text":"DIC (μmol kg⁻¹)","anchor":"middle","dx":16},"spacing":-3.4,"hconcat":[
{"title":{"text":"D","orient":"left","angle":0,"anchor":"end","align":"right","baseline":"top","fontSize":8.5,"fontWeight":"bold","offset":0},
"data":{"name":"D"},"transform":[{"filter":"datum.c<5"},{"fold":["p","q","u","w"],"as":["k","v"]},{"filter":"isValid(datum.v)"}],
"facet":{"column":{"field":"c","type":"ordinal","header":{"labels":false,"title":null}}},"spacing":25,"bounds":"flush",
"resolve":{"axis":{"x":"independent","y":"independent"}},
"spec":{"width":36,"height":55,
"encoding":{"y":{"field":"d","type":"quantitative","title":null,"scale":{"domain":[0,300],"reverse":true,"nice":false,"zero":false},"axis":{"values":[0,100,200,300]}}},
"layer":[
{"transform":[{"aggregate":[{"op":"min","field":"v","as":"lo"},{"op":"max","field":"v","as":"hi"}],"groupby":["c","d"]}],"mark":{"type":"area","orient":"horizontal","fill":"#ffd2ec","stroke":"#ffd2ec","strokeWidth":5},"encoding":{"x":{"field":"lo","type":"quantitative","title":null,"scale":{"domain":[1790,2210],"nice":false,"zero":false},"axis":{"orient":"top","values":[1800,2000,2200],"format":"d"}},"x2":{"field":"hi"}}},
{"mark":{"type":"line","strokeWidth":0.8},"encoding":{"x":{"field":"v","type":"quantitative","axis":null},"stroke":{"field":"k","type":"nominal","scale":{"domain":["p","q","u","w"],"range":["#1515e0","#8b3a12","#9b45d6","#c98a55"]},"legend":null},"order":{"field":"d","type":"quantitative"}}},
{"mark":{"type":"point","filled":true,"size":9,"strokeWidth":0.7,"opacity":1},"encoding":{"x":{"field":"v","type":"quantitative","axis":null},"stroke":{"field":"k","type":"nominal","scale":{"domain":["p","q","u","w"],"range":["#1515e0","#8b3a12","#9b45d6","#c98a55"]},"legend":null},"fill":{"field":"k","type":"nominal","scale":{"domain":["p","q","u","w"],"range":["#1515e0","#8b3a12","#ffffff","#ffffff"]},"legend":null},"shape":{"field":"k","type":"nominal","scale":{"domain":["p","q","u","w"],"range":["circle","square","circle","square"]},"legend":null}}}
]}},
{"width":36,"height":55,"data":{"name":"D"},"transform":[{"filter":"datum.c==5"},{"fold":["p","q","u","w"],"as":["k","v"]},{"filter":"isValid(datum.v)"}],
"encoding":{"y":{"field":"d","type":"quantitative","title":null,"scale":{"domain":[0,300],"reverse":true,"nice":false,"zero":false},"axis":{"values":[0,100,200,300]}}},
"layer":[
{"transform":[{"aggregate":[{"op":"min","field":"v","as":"lo"},{"op":"max","field":"v","as":"hi"}],"groupby":["c","d"]}],"mark":{"type":"area","orient":"horizontal","fill":"#ffd2ec","stroke":"#ffd2ec","strokeWidth":5},"encoding":{"x":{"field":"lo","type":"quantitative","title":null,"scale":{"domain":[1790,2210],"nice":false,"zero":false},"axis":{"orient":"top","values":[1800,2000,2200],"format":"d"}},"x2":{"field":"hi"}}},
{"mark":{"type":"line","strokeWidth":0.8},"encoding":{"x":{"field":"v","type":"quantitative","axis":null},"stroke":{"field":"k","type":"nominal","scale":{"domain":["p","q","u","w"],"range":["#1515e0","#8b3a12","#9b45d6","#c98a55"]},"legend":null},"order":{"field":"d","type":"quantitative"}}},
{"mark":{"type":"point","filled":true,"size":9,"strokeWidth":0.7,"opacity":1},"encoding":{"x":{"field":"v","type":"quantitative","axis":null},"stroke":{"field":"k","type":"nominal","scale":{"domain":["p","q","u","w"],"range":["#1515e0","#8b3a12","#9b45d6","#c98a55"]},"legend":null},"fill":{"field":"k","type":"nominal","scale":{"domain":["p","q","u","w"],"range":["#1515e0","#8b3a12","#ffffff","#ffffff"]},"legend":null},"shape":{"field":"k","type":"nominal","scale":{"domain":["p","q","u","w"],"range":["circle","square","circle","square"]},"legend":null}}}
]}
]},
{"title":{"text":"TA (μmol kg⁻¹)","anchor":"middle","dx":16},"spacing":-1.5,"hconcat":[
{"title":{"text":"E","orient":"left","angle":0,"anchor":"end","align":"right","baseline":"top","fontSize":8.5,"fontWeight":"bold","offset":0},
"data":{"name":"E"},"transform":[{"filter":"datum.c<5"},{"fold":["p","q","u","w"],"as":["k","v"]},{"filter":"isValid(datum.v)"}],
"facet":{"column":{"field":"c","type":"ordinal","header":{"labels":false,"title":null}}},"spacing":25,"bounds":"flush",
"resolve":{"axis":{"x":"independent","y":"independent"}},
"spec":{"width":36,"height":55,
"encoding":{"y":{"field":"d","type":"quantitative","title":null,"scale":{"domain":[0,300],"reverse":true,"nice":false,"zero":false},"axis":{"values":[0,100,200,300]}}},
"layer":[
{"transform":[{"aggregate":[{"op":"min","field":"v","as":"lo"},{"op":"max","field":"v","as":"hi"}],"groupby":["c","d"]}],"mark":{"type":"area","orient":"horizontal","fill":"#ffd2ec","stroke":"#ffd2ec","strokeWidth":5},"encoding":{"x":{"field":"lo","type":"quantitative","title":null,"scale":{"domain":[2180,2310],"nice":false,"zero":false},"axis":{"orient":"top","values":[2200,2250,2300],"format":"d"}},"x2":{"field":"hi"}}},
{"mark":{"type":"line","strokeWidth":0.8},"encoding":{"x":{"field":"v","type":"quantitative","axis":null},"stroke":{"field":"k","type":"nominal","scale":{"domain":["p","q","u","w"],"range":["#1515e0","#8b3a12","#9b45d6","#c98a55"]},"legend":null},"order":{"field":"d","type":"quantitative"}}},
{"mark":{"type":"point","filled":true,"size":9,"strokeWidth":0.7,"opacity":1},"encoding":{"x":{"field":"v","type":"quantitative","axis":null},"stroke":{"field":"k","type":"nominal","scale":{"domain":["p","q","u","w"],"range":["#1515e0","#8b3a12","#9b45d6","#c98a55"]},"legend":null},"fill":{"field":"k","type":"nominal","scale":{"domain":["p","q","u","w"],"range":["#1515e0","#8b3a12","#ffffff","#ffffff"]},"legend":null},"shape":{"field":"k","type":"nominal","scale":{"domain":["p","q","u","w"],"range":["circle","square","circle","square"]},"legend":null}}}
]}},
{"width":36,"height":55,"data":{"name":"E"},"transform":[{"filter":"datum.c==5"},{"fold":["p","q","u","w"],"as":["k","v"]},{"filter":"isValid(datum.v)"}],
"encoding":{"y":{"field":"d","type":"quantitative","title":null,"scale":{"domain":[0,300],"reverse":true,"nice":false,"zero":false},"axis":{"values":[0,100,200,300]}}},
"layer":[
{"transform":[{"aggregate":[{"op":"min","field":"v","as":"lo"},{"op":"max","field":"v","as":"hi"}],"groupby":["c","d"]}],"mark":{"type":"area","orient":"horizontal","fill":"#ffd2ec","stroke":"#ffd2ec","strokeWidth":5},"encoding":{"x":{"field":"lo","type":"quantitative","title":null,"scale":{"domain":[2180,2310],"nice":false,"zero":false},"axis":{"orient":"top","values":[2200,2250,2300],"format":"d"}},"x2":{"field":"hi"}}},
{"mark":{"type":"line","strokeWidth":0.8},"encoding":{"x":{"field":"v","type":"quantitative","axis":null},"stroke":{"field":"k","type":"nominal","scale":{"domain":["p","q","u","w"],"range":["#1515e0","#8b3a12","#9b45d6","#c98a55"]},"legend":null},"order":{"field":"d","type":"quantitative"}}},
{"mark":{"type":"point","filled":true,"size":9,"strokeWidth":0.7,"opacity":1},"encoding":{"x":{"field":"v","type":"quantitative","axis":null},"stroke":{"field":"k","type":"nominal","scale":{"domain":["p","q","u","w"],"range":["#1515e0","#8b3a12","#9b45d6","#c98a55"]},"legend":null},"fill":{"field":"k","type":"nominal","scale":{"domain":["p","q","u","w"],"range":["#1515e0","#8b3a12","#ffffff","#ffffff"]},"legend":null},"shape":{"field":"k","type":"nominal","scale":{"domain":["p","q","u","w"],"range":["circle","square","circle","square"]},"legend":null}}}
]}
]},
{"title":{"text":"NO₃ (μM)","anchor":"middle","dx":16},"spacing":-1.3,"hconcat":[
{"title":{"text":"F","orient":"left","angle":0,"anchor":"end","align":"right","baseline":"top","fontSize":8.5,"fontWeight":"bold","offset":0},
"data":{"name":"F"},"transform":[{"filter":"datum.c<5"},{"fold":["p","q","u","w"],"as":["k","v"]},{"filter":"isValid(datum.v)"}],
"facet":{"column":{"field":"c","type":"ordinal","header":{"labels":false,"title":null}}},"spacing":25,"bounds":"flush",
"resolve":{"axis":{"x":"independent","y":"independent"}},
"spec":{"width":36,"height":55,
"encoding":{"y":{"field":"d","type":"quantitative","title":null,"scale":{"domain":[0,300],"reverse":true,"nice":false,"zero":false},"axis":{"values":[0,100,200,300]}}},
"layer":[
{"transform":[{"aggregate":[{"op":"min","field":"v","as":"lo"},{"op":"max","field":"v","as":"hi"}],"groupby":["c","d"]}],"mark":{"type":"area","orient":"horizontal","fill":"#ffd2ec","stroke":"#ffd2ec","strokeWidth":5},"encoding":{"x":{"field":"lo","type":"quantitative","title":null,"scale":{"domain":[0,20],"nice":false,"zero":false},"axis":{"orient":"top","values":[0,10,20],"format":"d"}},"x2":{"field":"hi"}}},
{"mark":{"type":"line","strokeWidth":0.8},"encoding":{"x":{"field":"v","type":"quantitative","axis":null},"stroke":{"field":"k","type":"nominal","scale":{"domain":["p","q","u","w"],"range":["#1515e0","#8b3a12","#9b45d6","#c98a55"]},"legend":null},"order":{"field":"d","type":"quantitative"}}},
{"mark":{"type":"point","filled":true,"size":9,"strokeWidth":0.7,"opacity":1},"encoding":{"x":{"field":"v","type":"quantitative","axis":null},"stroke":{"field":"k","type":"nominal","scale":{"domain":["p","q","u","w"],"range":["#1515e0","#8b3a12","#9b45d6","#c98a55"]},"legend":null},"fill":{"field":"k","type":"nominal","scale":{"domain":["p","q","u","w"],"range":["#1515e0","#8b3a12","#ffffff","#ffffff"]},"legend":null},"shape":{"field":"k","type":"nominal","scale":{"domain":["p","q","u","w"],"range":["circle","square","circle","square"]},"legend":null}}}
]}},
{"width":36,"height":55,"data":{"name":"F"},"transform":[{"filter":"datum.c==5"},{"fold":["p","q","u","w"],"as":["k","v"]},{"filter":"isValid(datum.v)"}],
"encoding":{"y":{"field":"d","type":"quantitative","title":null,"scale":{"domain":[0,300],"reverse":true,"nice":false,"zero":false},"axis":{"values":[0,100,200,300]}}},
"layer":[
{"transform":[{"aggregate":[{"op":"min","field":"v","as":"lo"},{"op":"max","field":"v","as":"hi"}],"groupby":["c","d"]}],"mark":{"type":"area","orient":"horizontal","fill":"#ffd2ec","stroke":"#ffd2ec","strokeWidth":5},"encoding":{"x":{"field":"lo","type":"quantitative","title":null,"scale":{"domain":[0,20],"nice":false,"zero":false},"axis":{"orient":"top","values":[0,10,20],"format":"d"}},"x2":{"field":"hi"}}},
{"mark":{"type":"line","strokeWidth":0.8},"encoding":{"x":{"field":"v","type":"quantitative","axis":null},"stroke":{"field":"k","type":"nominal","scale":{"domain":["p","q","u","w"],"range":["#1515e0","#8b3a12","#9b45d6","#c98a55"]},"legend":null},"order":{"field":"d","type":"quantitative"}}},
{"mark":{"type":"point","filled":true,"size":9,"strokeWidth":0.7,"opacity":1},"encoding":{"x":{"field":"v","type":"quantitative","axis":null},"stroke":{"field":"k","type":"nominal","scale":{"domain":["p","q","u","w"],"range":["#1515e0","#8b3a12","#9b45d6","#c98a55"]},"legend":null},"fill":{"field":"k","type":"nominal","scale":{"domain":["p","q","u","w"],"range":["#1515e0","#8b3a12","#ffffff","#ffffff"]},"legend":null},"shape":{"field":"k","type":"nominal","scale":{"domain":["p","q","u","w"],"range":["circle","square","circle","square"]},"legend":null}}}
]}
]},
{"title":{"text":"Chl a (mg m⁻³)","anchor":"middle","dx":16},"spacing":1.3,"hconcat":[
{"title":{"text":"G","orient":"left","angle":0,"anchor":"end","align":"right","baseline":"top","fontSize":8.5,"fontWeight":"bold","offset":0},
"data":{"name":"G"},"transform":[{"filter":"datum.c<5"},{"fold":["p","q","u","w"],"as":["k","v"]},{"filter":"isValid(datum.v)"}],
"facet":{"column":{"field":"c","type":"ordinal","header":{"labels":false,"title":null}}},"spacing":25,"bounds":"flush",
"resolve":{"axis":{"x":"independent","y":"independent"}},
"spec":{"width":36,"height":55,
"encoding":{"y":{"field":"d","type":"quantitative","title":null,"scale":{"domain":[0,300],"reverse":true,"nice":false,"zero":false},"axis":{"values":[0,100,200,300]}}},
"layer":[
{"transform":[{"aggregate":[{"op":"min","field":"v","as":"lo"},{"op":"max","field":"v","as":"hi"}],"groupby":["c","d"]}],"mark":{"type":"area","orient":"horizontal","fill":"#ffd2ec","stroke":"#ffd2ec","strokeWidth":5},"encoding":{"x":{"field":"lo","type":"quantitative","title":null,"scale":{"domain":[0,1.1],"nice":false,"zero":false},"axis":{"orient":"top","values":[0,0.5,1],"format":".1f"}},"x2":{"field":"hi"}}},
{"mark":{"type":"line","strokeWidth":0.8},"encoding":{"x":{"field":"v","type":"quantitative","axis":null},"stroke":{"field":"k","type":"nominal","scale":{"domain":["p","q","u","w"],"range":["#1515e0","#8b3a12","#9b45d6","#c98a55"]},"legend":null},"order":{"field":"d","type":"quantitative"}}},
{"mark":{"type":"point","filled":true,"size":9,"strokeWidth":0.7,"opacity":1},"encoding":{"x":{"field":"v","type":"quantitative","axis":null},"stroke":{"field":"k","type":"nominal","scale":{"domain":["p","q","u","w"],"range":["#1515e0","#8b3a12","#9b45d6","#c98a55"]},"legend":null},"fill":{"field":"k","type":"nominal","scale":{"domain":["p","q","u","w"],"range":["#1515e0","#8b3a12","#ffffff","#ffffff"]},"legend":null},"shape":{"field":"k","type":"nominal","scale":{"domain":["p","q","u","w"],"range":["circle","square","circle","square"]},"legend":null}}}
]}},
{"width":36,"height":55,"data":{"name":"G"},"transform":[{"filter":"datum.c==5"},{"fold":["p","q","u","w"],"as":["k","v"]},{"filter":"isValid(datum.v)"}],
"encoding":{"y":{"field":"d","type":"quantitative","title":null,"scale":{"domain":[0,300],"reverse":true,"nice":false,"zero":false},"axis":{"values":[0,100,200,300]}}},
"layer":[
{"transform":[{"aggregate":[{"op":"min","field":"v","as":"lo"},{"op":"max","field":"v","as":"hi"}],"groupby":["c","d"]}],"mark":{"type":"area","orient":"horizontal","fill":"#ffd2ec","stroke":"#ffd2ec","strokeWidth":5},"encoding":{"x":{"field":"lo","type":"quantitative","title":null,"scale":{"domain":[0,1.1],"nice":false,"zero":false},"axis":{"orient":"top","values":[0,0.5,1],"format":".1f"}},"x2":{"field":"hi"}}},
{"mark":{"type":"line","strokeWidth":0.8},"encoding":{"x":{"field":"v","type":"quantitative","axis":null},"stroke":{"field":"k","type":"nominal","scale":{"domain":["p","q","u","w"],"range":["#1515e0","#8b3a12","#9b45d6","#c98a55"]},"legend":null},"order":{"field":"d","type":"quantitative"}}},
{"mark":{"type":"point","filled":true,"size":9,"strokeWidth":0.7,"opacity":1},"encoding":{"x":{"field":"v","type":"quantitative","axis":null},"stroke":{"field":"k","type":"nominal","scale":{"domain":["p","q","u","w"],"range":["#1515e0","#8b3a12","#9b45d6","#c98a55"]},"legend":null},"fill":{"field":"k","type":"nominal","scale":{"domain":["p","q","u","w"],"range":["#1515e0","#8b3a12","#ffffff","#ffffff"]},"legend":null},"shape":{"field":"k","type":"nominal","scale":{"domain":["p","q","u","w"],"range":["circle","square","circle","square"]},"legend":null}}}
]}
]}
]
}
